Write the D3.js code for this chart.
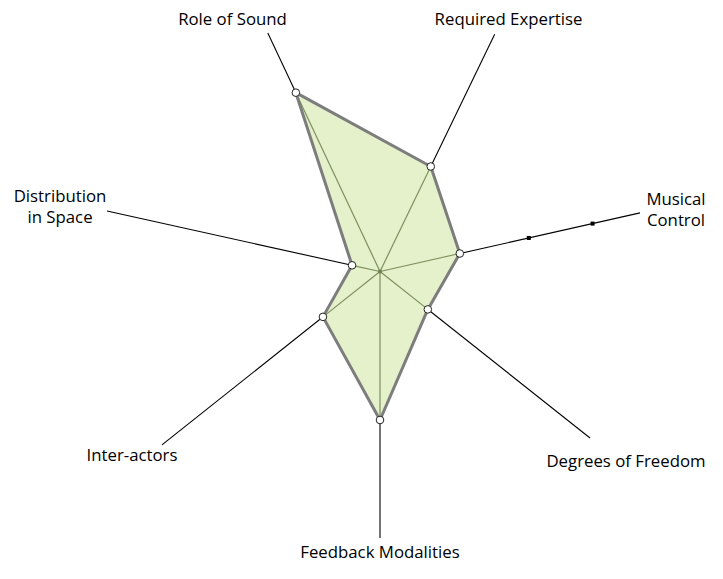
<!DOCTYPE html>
<html><head><meta charset="utf-8">
<script src="https://cdn.jsdelivr.net/npm/d3@7"></script>
<style>body{margin:0;background:#fff}svg{display:block}</style>
</head><body>
<svg id="c" width="723" height="579"></svg>
<script>
// ---- data ----
const categories = ["Role of Sound","Required Expertise","Musical Control","Degrees of Freedom","Feedback Modalities","Inter-actors","Distribution in Space"];
const values = [7.32, 4.32, 3.03, 2.26, 5.5, 2.7, 1.06];
const controlTicks = [5.65, 8.07]; // tick marks on Musical Control axis
const maxValue = 10;

// ---- layout ----
const cx = 380, cy = 271.5;
const angles = [-25.2, 25.8, 77.3, 128.4, 180, -128.5, -77.5]; // degrees clockwise from up
const axisLen = [263.5, 263.5, 266.5, 268, 266.5, 278.6, 279.6];
const labelLines = [["Role of Sound"],["Required Expertise"],["Musical","Control"],["Degrees of Freedom"],["Feedback Modalities"],["Inter-actors"],["Distribution","in Space"]];
const labelPos = [[232.5,25],[508.5,25],[676,205],[626,467],[380,558],[132,461],[60,202]];

const svg = d3.select("#c");
const r = d3.scaleLinear().domain([0, maxValue]).range([0, 270]);
const pt = (i, rad) => {
  const a = angles[i] * Math.PI / 180;
  return [cx + rad * Math.sin(a), cy - rad * Math.cos(a)];
};

// axes
svg.append("g").selectAll("line").data(categories).join("line")
  .attr("x1", cx).attr("y1", cy)
  .attr("x2", (d,i) => pt(i, axisLen[i])[0])
  .attr("y2", (d,i) => pt(i, axisLen[i])[1])
  .attr("stroke", "#000").attr("stroke-width", 1.1);

// ticks on Musical Control
svg.append("g").selectAll("rect").data(controlTicks).join("rect")
  .attr("x", d => pt(2, r(d))[0] - 2).attr("y", d => pt(2, r(d))[1] - 2)
  .attr("width", 4).attr("height", 4).attr("fill", "#000");

const pts = values.map((v,i) => pt(i, r(v)));
const line = d3.line().curve(d3.curveLinearClosed);

svg.append("path").attr("d", line(pts)).attr("fill", "#e4f1cb").attr("stroke", "none");

svg.append("g").selectAll("line").data(pts).join("line")
  .attr("x1", cx).attr("y1", cy).attr("x2", d => d[0]).attr("y2", d => d[1])
  .attr("stroke", "#7f8f5e").attr("stroke-width", 1.2);

svg.append("circle").attr("cx", cx).attr("cy", cy).attr("r", 2).attr("fill", "#6e7f50");

svg.append("path").attr("d", line(pts)).attr("fill", "none")
  .attr("stroke", "#7d7d7d").attr("stroke-width", 3).attr("stroke-linejoin", "round");

svg.append("g").selectAll("circle").data(pts).join("circle")
  .attr("cx", d => d[0]).attr("cy", d => d[1]).attr("r", 3.8)
  .attr("fill", "#fff").attr("stroke", "#222").attr("stroke-width", 1);

// labels
const lg = svg.append("g").attr("font-family", "'Open Sans', sans-serif").attr("font-size", 16.8).attr("fill", "#000").attr("text-anchor", "middle");
labelLines.forEach((lines, i) => {
  const t = lg.append("text").attr("x", labelPos[i][0]).attr("y", labelPos[i][1]);
  lines.forEach((s, j) => t.append("tspan").attr("x", labelPos[i][0]).attr("dy", j ? 21 : 0).text(s));
});
</script>
</body></html>
